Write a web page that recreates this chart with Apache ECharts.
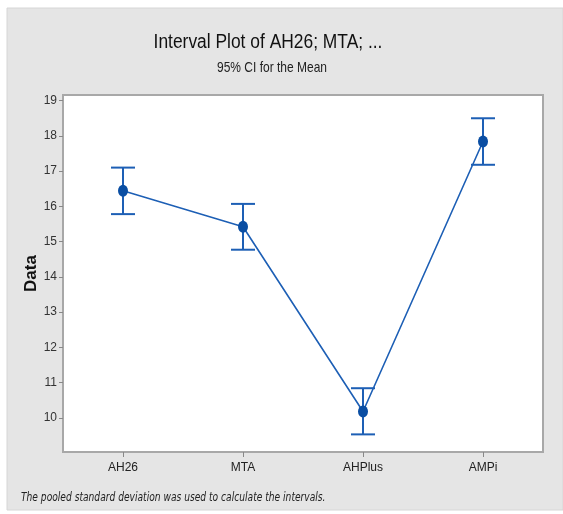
<!DOCTYPE html>
<html>
<head>
  <meta charset="utf-8">
  <title>Interval Plot</title>
  <script src="https://cdn.jsdelivr.net/npm/echarts@6/dist/echarts.min.js"></script>
</head>
<body style="margin:0; background:#ffffff;">
  <div id="container" style="width:563px; height:514px;"></div>
  <script>
    // data
    const groups = ['AH26', 'MTA', 'AHPlus', 'AMPi'];
    const means = [16.44, 15.42, 10.18, 17.84];
    const lower = [15.78, 14.77, 9.53, 17.18];
    const upper = [17.10, 16.07, 10.84, 18.50];
    const yTicks = [10, 11, 12, 13, 14, 15, 16, 17, 18, 19];

    const blue = '#1d5fb5';
    const dotBlue = '#0a4ea3';
    const sans = '"Liberation Sans", Arial, sans-serif';

    const chart = echarts.init(document.getElementById('container'));

    const option = {
      backgroundColor: '#ffffff',
      animation: false,
      graphic: [
        {
          type: 'rect',
          z: -10,
          shape: { x: 7, y: 8, width: 556, height: 502 },
          style: { fill: '#e5e5e5', stroke: '#d6d6d6', lineWidth: 1 }
        },
        // titles are squeezed horizontally to mimic a narrow face
        {
          type: 'text',
          x: 268, y: 32, scaleX: 0.87,
          style: { text: 'Interval Plot of AH26; MTA; ...', x: 0, y: 0, align: 'center', verticalAlign: 'top', font: '20px ' + sans, fill: '#111' }
        },
        {
          type: 'text',
          x: 272, y: 60, scaleX: 0.8,
          style: { text: '95% CI for the Mean', x: 0, y: 0, align: 'center', verticalAlign: 'top', font: '15px ' + sans, fill: '#222' }
        },
        {
          type: 'text',
          x: 21, y: 491, scaleX: 0.78,
          style: {
            text: 'The pooled standard deviation was used to calculate the intervals.',
            x: 0, y: 0, align: 'left', verticalAlign: 'top',
            font: 'italic 13px "DejaVu Sans Condensed", "DejaVu Sans", sans-serif',
            fill: '#222'
          }
        }
      ],
      grid: {
        left: 63, right: 20, top: 95, bottom: 62,
        show: true,
        backgroundColor: '#ffffff',
        borderColor: '#a8a8a8',
        borderWidth: 2
      },
      xAxis: {
        type: 'category',
        data: groups,
        boundaryGap: true,
        axisLine: { show: false },
        axisTick: { show: true, alignWithLabel: true, length: 5, lineStyle: { color: '#888' } },
        axisLabel: { fontFamily: sans, fontSize: 12, color: '#222', margin: 10 },
        splitLine: { show: false }
      },
      yAxis: {
        type: 'value',
        min: 9.03,
        max: 19.16,
        name: 'Data',
        nameLocation: 'middle',
        nameGap: 23,
        nameMoveOverlap: false,
        nameTextStyle: { fontFamily: sans, fontSize: 17, fontWeight: 'bold', color: '#111' },
        axisLine: { show: false },
        axisTick: { show: true, length: 4, customValues: yTicks, lineStyle: { color: '#888' } },
        axisLabel: { fontFamily: sans, fontSize: 12, color: '#333', margin: 6, customValues: yTicks },
        splitLine: { show: false }
      },
      series: [
        {
          type: 'custom',
          z: 3,
          data: groups.map((g, i) => [i, lower[i], upper[i]]),
          renderItem: function (params, api) {
            const lo = api.coord([api.value(0), api.value(1)]);
            const hi = api.coord([api.value(0), api.value(2)]);
            const half = 12;
            const st = { stroke: blue, lineWidth: 2 };
            return {
              type: 'group',
              children: [
                { type: 'line', shape: { x1: lo[0], y1: lo[1], x2: hi[0], y2: hi[1] }, style: st },
                { type: 'line', shape: { x1: lo[0] - half, y1: lo[1], x2: lo[0] + half, y2: lo[1] }, style: st },
                { type: 'line', shape: { x1: hi[0] - half, y1: hi[1], x2: hi[0] + half, y2: hi[1] }, style: st }
              ]
            };
          }
        },
        {
          type: 'line',
          z: 4,
          data: means,
          symbol: 'circle',
          symbolSize: [10, 12],
          itemStyle: { color: dotBlue },
          lineStyle: { color: blue, width: 1.6 }
        }
      ]
    };

    chart.setOption(option);
    window.addEventListener('resize', chart.resize);
  </script>
</body>
</html>
